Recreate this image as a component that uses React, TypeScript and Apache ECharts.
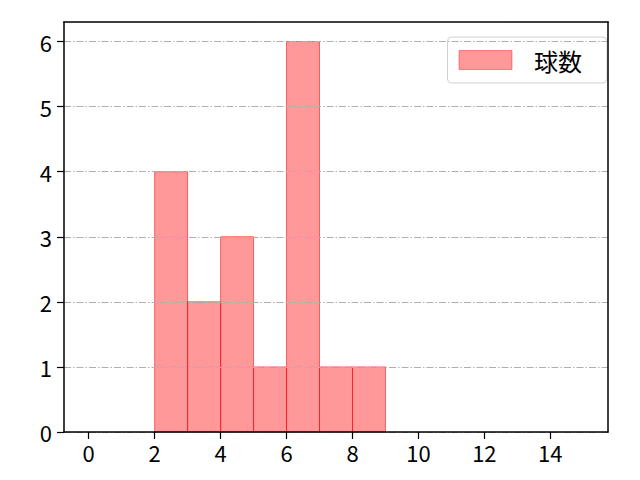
import React, { useEffect, useRef } from 'react';
import * as echarts from 'echarts';

// histogram bins (left edge, right edge) and counts
const binStarts = [2, 3, 4, 5, 6, 7, 8];
const binEnds = [3, 4, 5, 6, 7, 8, 9];
const counts = [4, 2, 3, 1, 6, 1, 1];
const xTicks = [0, 2, 4, 6, 8, 10, 12, 14];
const yTicks = [0, 1, 2, 3, 4, 5, 6];
const seriesName = '球数';

const FONT = '"Noto Sans CJK JP", "Noto Sans", sans-serif';

const App: React.FC = () => {
  const chartRef = useRef<HTMLDivElement>(null);

  useEffect(() => {
    if (!chartRef.current) return;
    const chart = echarts.init(chartRef.current, undefined, { renderer: 'svg' });

    const data = binStarts.map((s, i) => [s, binEnds[i], counts[i]]);
    const label = { color: '#000', fontSize: 22, fontFamily: FONT };
    const frame = { color: '#000', width: 1.5 };

    const option = {
      animation: false,
      grid: { left: 64, right: 32, top: 22, bottom: 48 },
      legend: {
        right: 33,
        top: 37,
        orient: 'vertical',
        padding: [11, 25, 11, 11],
        borderColor: '#d0d0d0',
        borderWidth: 1,
        borderRadius: 4,
        itemWidth: 53,
        itemHeight: 19,
        textStyle: {
          fontSize: 24,
          lineHeight: 24,
          fontFamily: FONT,
          color: '#000',
          padding: [0, 0, 0, 17],
        },
        data: [
          {
            name: seriesName,
            icon: 'rect',
            itemStyle: { color: 'rgba(255,0,0,0.4)', borderColor: 'rgba(255,0,0,0.4)', borderWidth: 1 },
          },
        ],
      },
      xAxis: [
        {
          type: 'value',
          min: -0.75,
          max: 15.75,
          z: 10,
          axisLine: { show: true, onZero: false, lineStyle: frame },
          axisTick: { show: true, length: 7, customValues: xTicks, lineStyle: { color: '#000', width: 1.2 } },
          axisLabel: { ...label, margin: 9, customValues: xTicks },
          splitLine: { show: false },
        },
        {
          type: 'value',
          position: 'top',
          min: -0.75,
          max: 15.75,
          z: 10,
          axisLine: { show: true, onZero: false, lineStyle: frame },
          axisTick: { show: false },
          axisLabel: { show: false },
          splitLine: { show: false },
        },
      ],
      yAxis: [
        {
          type: 'value',
          min: 0,
          max: 6.3,
          z: 5,
          axisLine: { show: true, onZero: false, lineStyle: frame },
          axisTick: { show: true, length: 7, customValues: yTicks, lineStyle: { color: '#000', width: 1.2 } },
          axisLabel: { ...label, margin: 12, customValues: yTicks },
          splitLine: {
            show: true,
            lineStyle: { color: '#b0b0b0', width: 1, type: [7, 2, 1.5, 2] },
          },
        },
        {
          type: 'value',
          position: 'right',
          min: 0,
          max: 6.3,
          z: 10,
          axisLine: { show: true, onZero: false, lineStyle: frame },
          axisTick: { show: false },
          axisLabel: { show: false },
          splitLine: { show: false },
        },
      ],
      series: [
        {
          name: seriesName,
          type: 'custom',
          xAxisIndex: 0,
          yAxisIndex: 0,
          z: 1,
          itemStyle: { color: 'rgba(255,0,0,0.4)' },
          data,
          renderItem: (params: any, api: any) => {
            const p0 = api.coord([api.value(0), api.value(2)]);
            const p1 = api.coord([api.value(1), 0]);
            return {
              type: 'rect',
              shape: { x: p0[0], y: p0[1], width: p1[0] - p0[0], height: p1[1] - p0[1] },
              style: { fill: 'rgba(255,0,0,0.4)', stroke: 'rgba(255,0,0,0.55)', lineWidth: 1 },
            };
          },
        },
      ],
    };

    chart.setOption(option);
    return () => {
      chart.dispose();
    };
  }, []);

  return (
    <div
      ref={chartRef}
      style={{ position: 'fixed', left: 0, top: 0, width: '640px', height: '480px', background: '#fff' }}
    />
  );
};

export default App;
